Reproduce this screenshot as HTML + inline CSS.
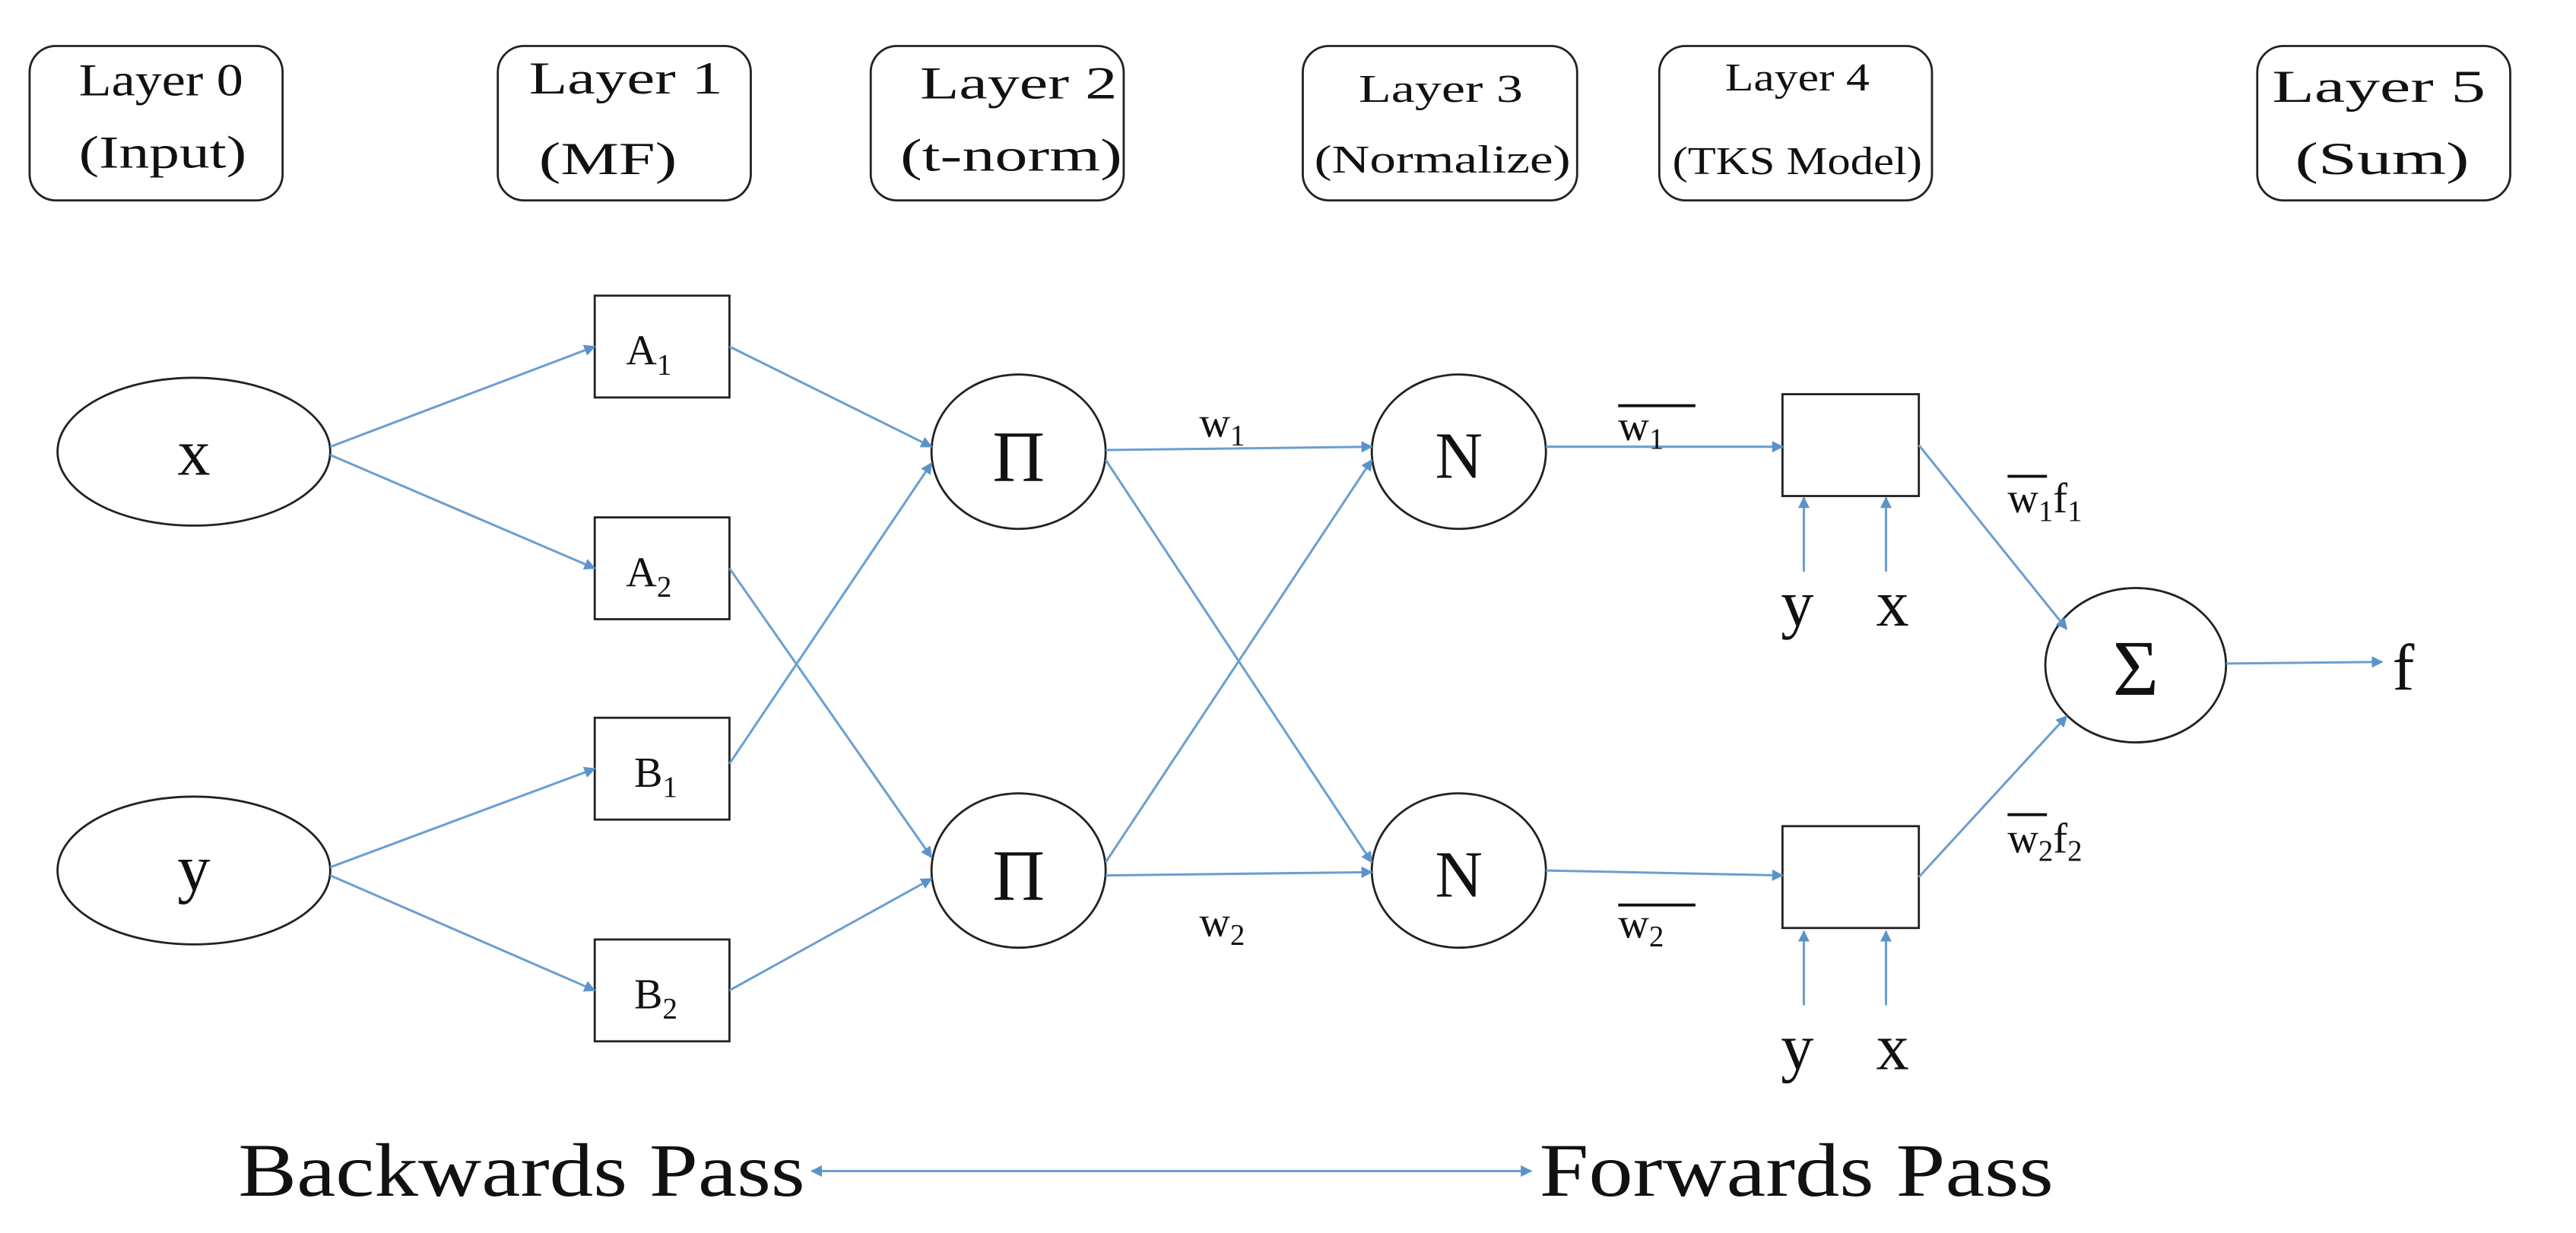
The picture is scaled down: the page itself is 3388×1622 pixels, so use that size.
<!DOCTYPE html>
<html><head><meta charset="utf-8"><style>
html,body{margin:0;padding:0;background:#fff}
svg{display:block}
text{font-family:"Liberation Serif",serif;fill:#111}
</style></head><body>
<svg width="3388" height="1622" viewBox="0 0 1568 750.7" xmlns="http://www.w3.org/2000/svg">
<defs>
<marker id="a" viewBox="0 0 10 10" refX="9" refY="5" markerWidth="7" markerHeight="7" orient="auto-start-reverse" markerUnits="userSpaceOnUse"><path d="M0,0 L10,5 L0,10 z" fill="#5b93c9"/></marker>
</defs>
<g fill="#fff" stroke="#222" stroke-width="1.3">
<rect x="18" y="28" width="154" height="94" rx="16"/>
<rect x="303" y="28" width="154" height="94" rx="16"/>
<rect x="530" y="28" width="154" height="94" rx="16"/>
<rect x="793" y="28" width="167" height="94" rx="16"/>
<rect x="1010" y="28" width="166" height="94" rx="16"/>
<rect x="1374" y="28" width="154" height="94" rx="16"/>
</g>
<g font-size="28">
<text x="48" y="58" textLength="100" lengthAdjust="spacingAndGlyphs">Layer 0</text>
<text x="48" y="102" textLength="102" lengthAdjust="spacingAndGlyphs">(Input)</text>
<text x="322" y="57" textLength="118" lengthAdjust="spacingAndGlyphs">Layer 1</text>
<text x="328" y="106" textLength="84" lengthAdjust="spacingAndGlyphs">(MF)</text>
<text x="560" y="60" textLength="120" lengthAdjust="spacingAndGlyphs">Layer 2</text>
<text x="548" y="104" textLength="135" lengthAdjust="spacingAndGlyphs">(t-norm)</text>
<text x="827" y="62" font-size="24" textLength="100" lengthAdjust="spacingAndGlyphs">Layer 3</text>
<text x="800" y="105" font-size="24" textLength="156" lengthAdjust="spacingAndGlyphs">(Normalize)</text>
<text x="1050" y="55" font-size="24" textLength="88" lengthAdjust="spacingAndGlyphs">Layer 4</text>
<text x="1018" y="106" font-size="24" textLength="152" lengthAdjust="spacingAndGlyphs">(TKS Model)</text>
<text x="1383" y="62" textLength="130" lengthAdjust="spacingAndGlyphs">Layer 5</text>
<text x="1397" y="106" textLength="106" lengthAdjust="spacingAndGlyphs">(Sum)</text>
</g>
<g fill="#fff" stroke="#222" stroke-width="1.3">
<ellipse cx="118" cy="275" rx="83" ry="45"/>
<ellipse cx="118" cy="530" rx="83" ry="45"/>
<rect x="362" y="180" width="82" height="62"/>
<rect x="362" y="315" width="82" height="62"/>
<rect x="362" y="437" width="82" height="62"/>
<rect x="362" y="572" width="82" height="62"/>
<ellipse cx="620" cy="275" rx="53" ry="47"/>
<ellipse cx="620" cy="530" rx="53" ry="47"/>
<ellipse cx="888" cy="275" rx="53" ry="47"/>
<ellipse cx="888" cy="530" rx="53" ry="47"/>
<rect x="1085" y="240" width="83" height="62"/>
<rect x="1085" y="503" width="83" height="62"/>
<ellipse cx="1300" cy="405" rx="55" ry="47"/>
</g>
<g stroke="#6a9fd0" stroke-width="1.4" fill="none" marker-end="url(#a)">
<line x1="201" y1="272" x2="362" y2="211"/>
<line x1="201" y1="277" x2="362" y2="346"/>
<line x1="201" y1="528" x2="362" y2="468"/>
<line x1="201" y1="533" x2="362" y2="603"/>
<line x1="444" y1="211" x2="567" y2="272"/>
<line x1="444" y1="465" x2="567" y2="282"/>
<line x1="444" y1="346" x2="567" y2="522"/>
<line x1="444" y1="603" x2="567" y2="535"/>
<line x1="673" y1="274" x2="835" y2="272"/>
<line x1="673" y1="280" x2="835" y2="525"/>
<line x1="673" y1="525" x2="835" y2="280"/>
<line x1="673" y1="533" x2="835" y2="531"/>
<line x1="941" y1="272" x2="1085" y2="272"/>
<line x1="941" y1="530" x2="1085" y2="533"/>
<line x1="1098" y1="348" x2="1098" y2="303"/>
<line x1="1148" y1="348" x2="1148" y2="303"/>
<line x1="1098" y1="612" x2="1098" y2="567"/>
<line x1="1148" y1="612" x2="1148" y2="567"/>
<line x1="1168" y1="271" x2="1258" y2="383"/>
<line x1="1168" y1="534" x2="1258" y2="436"/>
<line x1="1355" y1="404" x2="1450" y2="403"/>
<line x1="494" y1="713" x2="932" y2="713" marker-start="url(#a)"/>
</g>
<g font-size="40" text-anchor="middle">
<text x="118" y="289">x</text>
<text x="118" y="542">y</text>
<text x="620" y="293" font-size="44">Π</text>
<text x="620" y="548" font-size="44">Π</text>
<text x="888" y="291">N</text>
<text x="888" y="546">N</text>
<text x="1300" y="423" font-size="48">Σ</text>
<text x="1463" y="420">f</text>
<text x="1094" y="381">y</text>
<text x="1152" y="381">x</text>
<text x="1094" y="651">y</text>
<text x="1152" y="651">x</text>
</g>
<g font-size="26">
<text x="381" y="222">A<tspan font-size="18" dy="6">1</tspan></text>
<text x="381" y="357">A<tspan font-size="18" dy="6">2</tspan></text>
<text x="386" y="479">B<tspan font-size="18" dy="6">1</tspan></text>
<text x="386" y="614">B<tspan font-size="18" dy="6">2</tspan></text>
<text x="730" y="266">w<tspan font-size="18" dy="5">1</tspan></text>
<text x="730" y="570">w<tspan font-size="18" dy="5">2</tspan></text>
<text x="985" y="268">w<tspan font-size="18" dy="5">1</tspan></text>
<text x="985" y="571">w<tspan font-size="18" dy="5">2</tspan></text>
<text x="1222" y="312">w<tspan font-size="18" dy="5">1</tspan><tspan dy="-5">f</tspan><tspan font-size="18" dy="5">1</tspan></text>
<text x="1222" y="519">w<tspan font-size="18" dy="5">2</tspan><tspan dy="-5">f</tspan><tspan font-size="18" dy="5">2</tspan></text>
</g>
<g stroke="#111" stroke-width="1.8">
<line x1="985" y1="247" x2="1032" y2="247"/>
<line x1="985" y1="551" x2="1032" y2="551"/>
<line x1="1222" y1="290" x2="1246" y2="290"/>
<line x1="1222" y1="496" x2="1246" y2="496"/>
</g>
<g font-size="46">
<text x="145" y="728" textLength="345" lengthAdjust="spacingAndGlyphs">Backwards Pass</text>
<text x="937" y="728" textLength="313" lengthAdjust="spacingAndGlyphs">Forwards Pass</text>
</g>
</svg>
</body></html>
